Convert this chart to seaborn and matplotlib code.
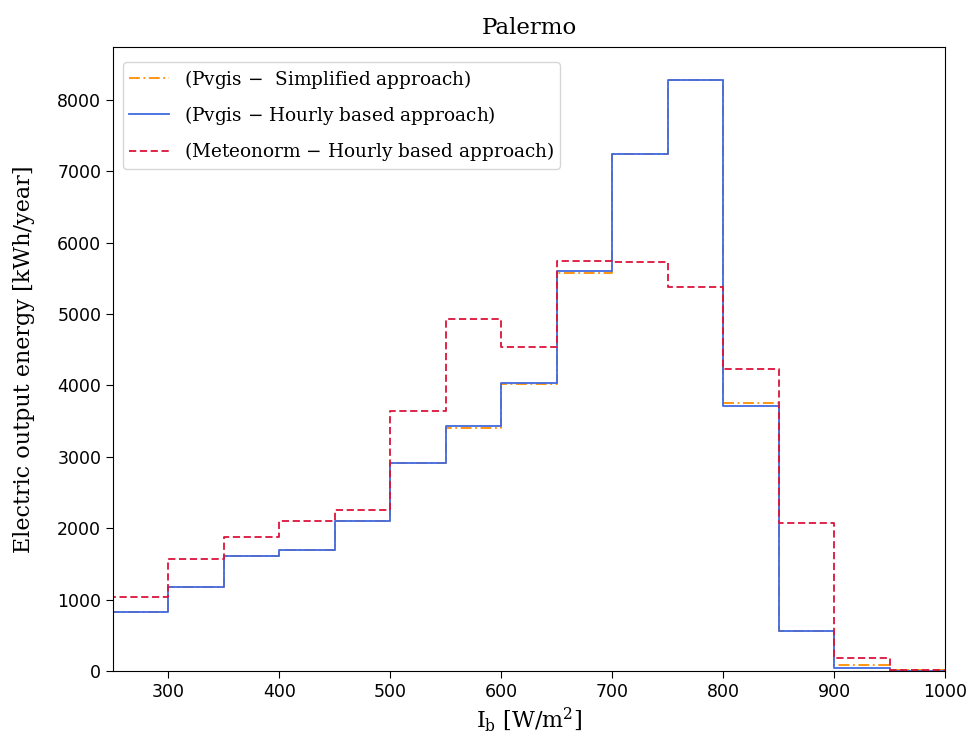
import numpy as np
import pandas as pd
import matplotlib
matplotlib.use("Agg")
import matplotlib.pyplot as plt
import seaborn as sns

# left edges of the irradiance bins [W/m2]
bin_left = [200, 250, 300, 350, 400, 450, 500, 550, 600, 650, 700, 750, 800, 850, 900, 950]
bin_right_end = 1000

pvgis_simplified = [420, 830, 1180, 1615, 1700, 2100, 2920, 3410, 4020, 5580, 7245, 8280, 3760, 565, 85, 8]
pvgis_hourly = [420, 830, 1180, 1615, 1700, 2100, 2920, 3430, 4040, 5600, 7245, 8280, 3715, 560, 38, 5]
meteonorm_hourly = [530, 1040, 1570, 1880, 2100, 2255, 3645, 4935, 4535, 5745, 5725, 5380, 4230, 2070, 185, 10]

labels = [r"(Pvgis $-$  Simplified approach)",
          r"(Pvgis $-$ Hourly based approach)",
          r"(Meteonorm $-$ Hourly based approach)"]

plt.rcParams["mathtext.fontset"] = "dejavuserif"

fig = plt.figure(figsize=(9.7, 7.37), dpi=100)
ax = fig.add_axes([113 / 970, 1 - 671 / 737, (945 - 113) / 970, (671 - 47) / 737])

x = bin_left + [bin_right_end]
series = [
    (pvgis_simplified, "darkorange", (0, (6, 2, 1, 2)), labels[0]),
    (pvgis_hourly, "royalblue", "-", labels[1]),
    (meteonorm_hourly, "crimson", (0, (4, 2)), labels[2]),
]
for vals, col, ls, lab in series:
    df = pd.DataFrame({"x": x, "y": vals + [vals[-1]]})
    sns.lineplot(data=df, x="x", y="y", ax=ax, drawstyle="steps-post",
                 color=col, linestyle=ls, linewidth=1.3, label=lab)

ax.set_xlim(250, 1000)
ax.set_ylim(0, 8742)
ax.set_xticks([300, 400, 500, 600, 700, 800, 900, 1000])
ax.set_yticks([0, 1000, 2000, 3000, 4000, 5000, 6000, 7000, 8000])
ax.tick_params(labelsize=12.5, length=5)

ax.set_title("Palermo", family="DejaVu Serif", fontsize=16.5, pad=9)
ax.set_xlabel(r"$\mathrm{I_b}$ [W/m$^2$]", family="DejaVu Serif", fontsize=16)
ax.set_ylabel("Electric output energy [kWh/year]", family="DejaVu Serif", fontsize=16)
ax.yaxis.set_label_coords(-0.094, 0.5)
ax.xaxis.set_label_coords(0.5, -0.056)

ax.legend(loc="upper left", bbox_to_anchor=(10 / 832, 1 - 15 / 624), borderaxespad=0,
          prop={"family": "DejaVu Serif", "size": 13.3},
          handlelength=2.2, labelspacing=0.72, borderpad=0.3)

fig.savefig("out.png", dpi=100)
